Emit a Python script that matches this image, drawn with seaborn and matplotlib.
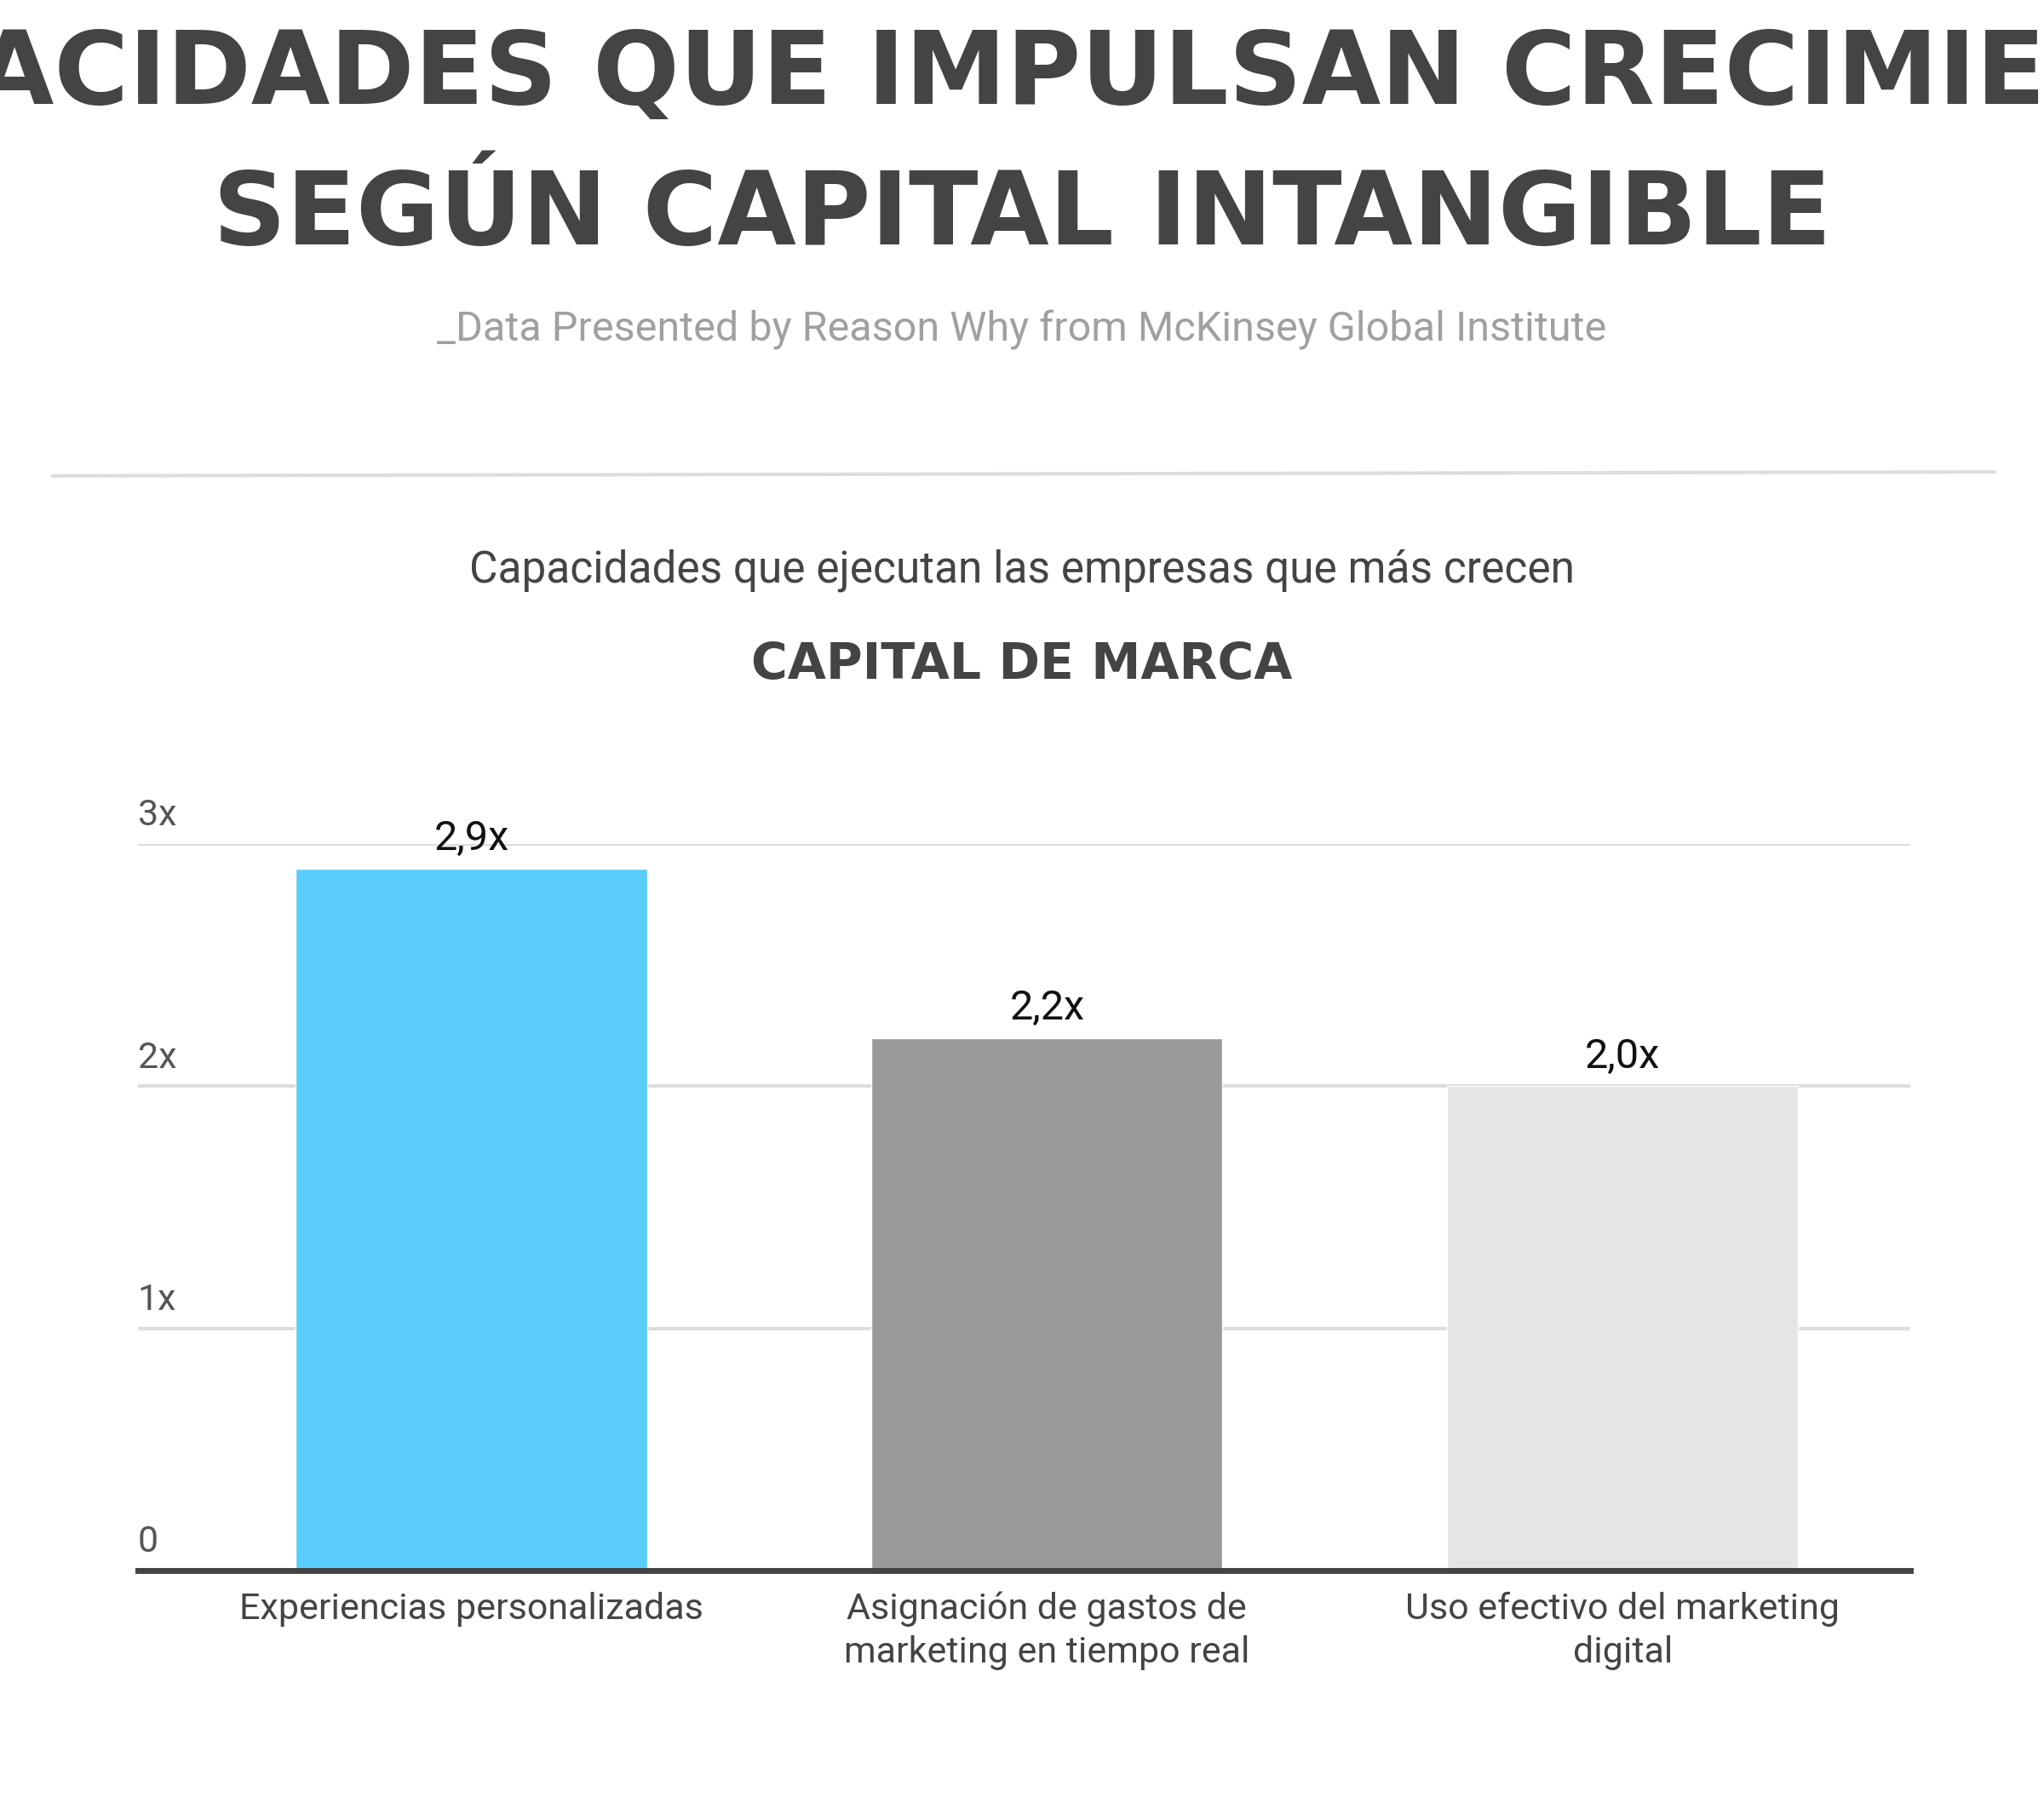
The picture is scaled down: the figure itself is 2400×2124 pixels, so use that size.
import matplotlib
matplotlib.use("Agg")
import matplotlib.pyplot as plt
import seaborn as sns
import pandas as pd

categories = ["Experiencias personalizadas",
              "Asignación de gastos de\nmarketing en tiempo real",
              "Uso efectivo del marketing\ndigital"]
values = [2.9, 2.2, 2.0]
value_labels = ["2,9x", "2,2x", "2,0x"]
colors = ["#5bcdfd", "#999999", "#e5e5e5"]
yticks = [0, 1, 2, 3]
ytick_labels = ["0", "1x", "2x", "3x"]

sns.set_theme(style="white")
plt.rcParams["font.family"] = ["Roboto", "DejaVu Sans"]
COND = ["Liberation Sans Narrow", "DejaVu Sans"]

df = pd.DataFrame({"cat": categories, "val": values})

fig = plt.figure(figsize=(24, 21.24), dpi=100)
W, H = 1560, 1380
ax = fig.add_axes([105 / W, 1 - 1198 / H, (1458 - 105) / W, (1198 - 644) / H])

sns.barplot(data=df, x="cat", y="val", hue="cat", palette=colors, legend=False,
            width=0.61, ax=ax, zorder=3, saturation=1)
ax.set_xlim(-0.58, 2.5)
ax.set_ylim(0, 3)
for y in yticks[1:]:
    ax.axhline(y, color="#dddddd", lw=3, zorder=1)
for y, lab in zip(yticks, ytick_labels):
    ax.text(-0.58, y + 0.045, lab, fontsize=31, color="#555555",
            ha="left", va="bottom")
for i, (v, lab) in enumerate(zip(values, value_labels)):
    ax.text(i, v + 0.04, lab, fontsize=35, color="#111111", ha="center", va="bottom")

ax.set_yticks([])
ax.set_xlabel("")
ax.set_ylabel("")
ax.tick_params(axis="x", length=0, pad=18, labelsize=31, labelcolor="#444444")
for s in ["left", "right", "top"]:
    ax.spines[s].set_visible(False)
ax.spines["bottom"].set_color("#444444")
ax.spines["bottom"].set_linewidth(5)
ax.spines["bottom"].set_zorder(5)
for t in ax.get_xticklabels():
    t.set_va("top")
    t.set_linespacing(1.3)

fig.text(0.5, 1 - 58 / H, "CAPACIDADES QUE IMPULSAN CRECIMIENTO", ha="center", va="center",
         fontsize=86, fontweight="bold", color="#444444", family=COND)
fig.text(0.5, 1 - 165 / H, "SEGÚN CAPITAL INTANGIBLE", ha="center", va="center",
         fontsize=86, fontweight="bold", color="#444444", family=COND)
fig.text(0.5, 1 - 252 / H, "_Data Presented by Reason Why from McKinsey Global Institute",
         ha="center", va="center", fontsize=35, color="#a0a0a0")
fig.add_artist(plt.Line2D([40 / W, 1522 / W], [1 - 363 / H, 1 - 360 / H],
                          color="#dddddd", lw=3))
fig.text(0.5, 1 - 435 / H, "Capacidades que ejecutan las empresas que más crecen",
         ha="center", va="center", fontsize=37, color="#444444")
fig.text(0.5, 1 - 507 / H, "CAPITAL DE MARCA", ha="center", va="center",
         fontsize=42, fontweight="bold", color="#444444", family=COND)

fig.savefig("out.png", dpi=100, facecolor="white")
